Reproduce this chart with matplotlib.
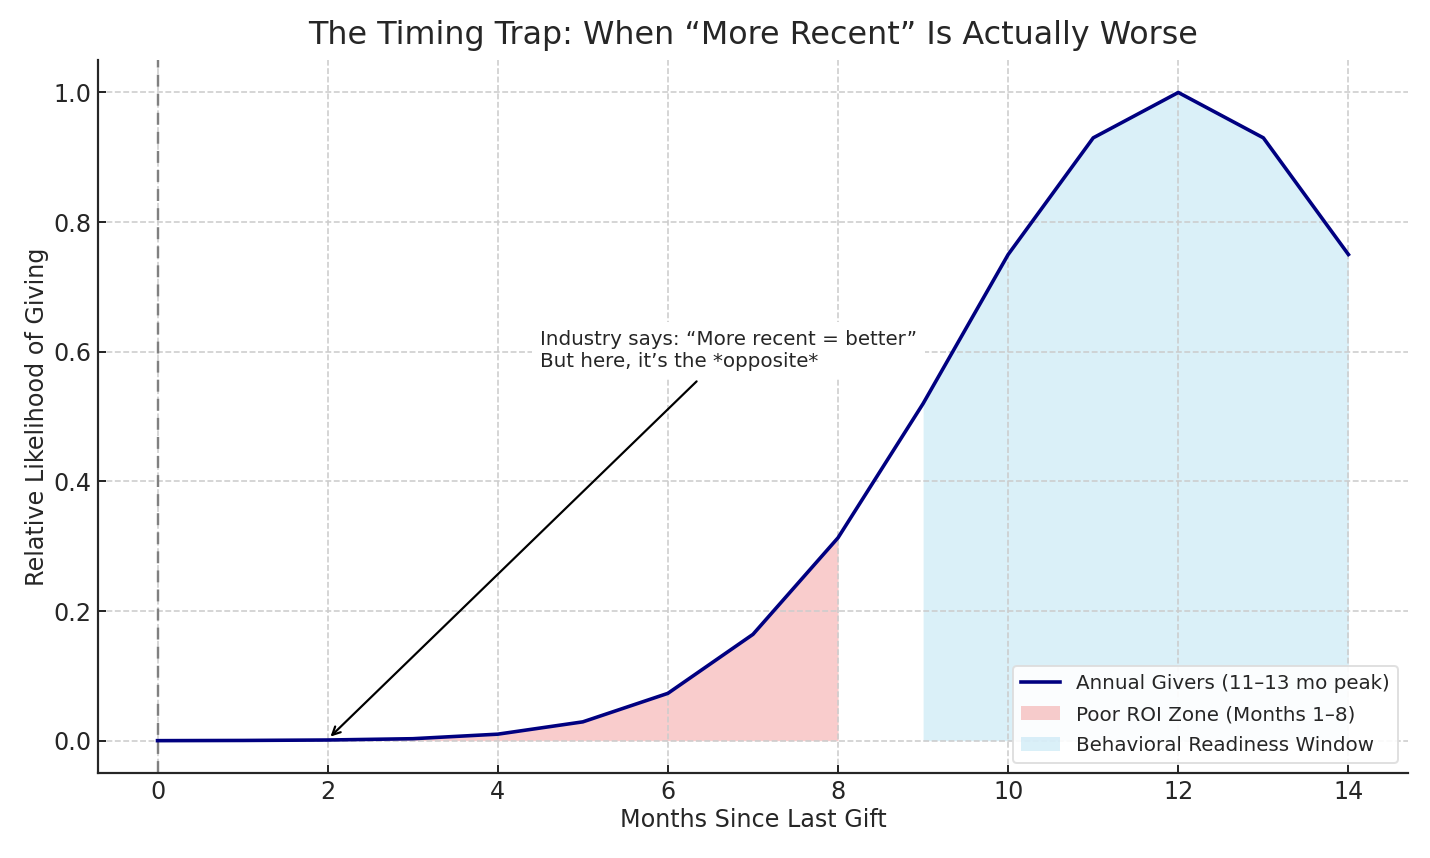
import numpy as np
import matplotlib
matplotlib.use('Agg')
import matplotlib.pyplot as plt

# ── Data ───────────────────────────────────────────────────────────
months = np.array([0, 1, 2, 3, 4, 5, 6, 7, 8, 9, 10, 11, 12, 13, 14])
likelihood = np.array([0.0, 0.0003, 0.001, 0.003, 0.01, 0.029, 0.073,
                       0.164, 0.313, 0.52, 0.75, 0.93, 1.0, 0.93, 0.75])
poor_roi = (1, 8)
ready_window = (9, 14)

line_label = 'Annual Givers (11–13 mo peak)'
poor_label = 'Poor ROI Zone (Months 1–8)'
ready_label = 'Behavioral Readiness Window'

text_color = '#262626'

fig, ax = plt.subplots(figsize=(10, 6), dpi=143)
fig.subplots_adjust(left=0.0685, right=0.9846, bottom=0.099, top=0.930)

ax.plot(months, likelihood, color='navy', linewidth=1.8, label=line_label, zorder=3)

m = (months >= poor_roi[0]) & (months <= poor_roi[1])
ax.fill_between(months[m], likelihood[m], color='lightcoral', alpha=0.4,
                linewidth=0, label=poor_label)
m = (months >= ready_window[0]) & (months <= ready_window[1])
ax.fill_between(months[m], likelihood[m], color='skyblue', alpha=0.3,
                linewidth=0, label=ready_label)

ax.axvline(0, color='gray', linestyle='--', linewidth=1.2, dashes=(5, 3))

ax.annotate('Industry says: “More recent = better”\nBut here, it’s the *opposite*',
            xy=(2, 0.002), xytext=(4.5, 0.577), fontsize=10, color=text_color,
            ha='left', va='baseline',
            bbox=dict(facecolor='white', edgecolor='none', pad=4),
            arrowprops=dict(arrowstyle='->', color='black', linewidth=1.1))

ax.set_title('The Timing Trap: When “More Recent” Is Actually Worse',
             fontsize=16, color=text_color, pad=8)
ax.set_xlabel('Months Since Last Gift', fontsize=12, color=text_color, labelpad=2)
ax.set_ylabel('Relative Likelihood of Giving', fontsize=12, color=text_color,
              labelpad=2)
ax.set_xticks(range(0, 15, 2))
ax.tick_params(labelsize=12, colors=text_color, width=1.0, length=4,
               direction='in')

ax.grid(True, linestyle='--', color='#cccccc', linewidth=0.8)
for s in ['top', 'right']:
    ax.spines[s].set_visible(False)
for s in ['left', 'bottom']:
    ax.spines[s].set_color(text_color)
    ax.spines[s].set_linewidth(1.1)

ax.legend(loc='lower right', fontsize=10, framealpha=0.9, edgecolor='#dddddd',
          labelcolor=text_color, labelspacing=0.6)

fig.savefig('out.png', dpi=143)
